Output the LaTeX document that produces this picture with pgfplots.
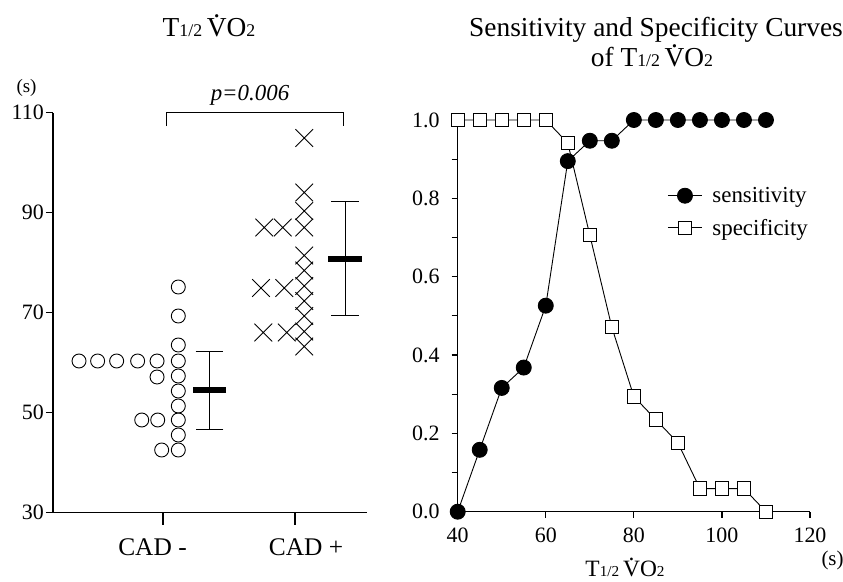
\documentclass[border=0pt]{standalone}
\usepackage{fontspec}
\setmainfont{Liberation Serif}
\usepackage{graphicx}
\usepackage{pgfplots}
\pgfplotsset{compat=1.18}

\newcommand{\fs}[1]{\fontsize{#1}{#1}\selectfont}
% V with a dot above, and the T1/2 VO2 label
\newcommand{\Vdot}{\leavevmode\ooalign{V\cr\hidewidth\raisebox{0.70em}{.}\hidewidth\cr}}
\newcommand{\thalf}{T\scalebox{0.65}{1/2}\,\Vdot O\scalebox{0.65}{2}}

\begin{document}
\begin{tikzpicture}
\useasboundingbox (0,0) rectangle (843bp,582bp);

% ---- left: dot plot of T1/2 VO2 ----
\begin{axis}[
  at={(53bp,69.5bp)}, anchor=south west,
  scale only axis, width=314bp, height=400bp,
  xmin=0.167, xmax=2.545, ymin=30, ymax=110,
  axis lines=left,
  axis line style={-, line width=1.5bp},
  xtick=\empty,
  ytick={30,50,70,90,110},
  tick align=outside,
  major tick length=7bp,
  tick style={black, line width=1.2bp},
  /pgf/number format/assume math mode=true,
  yticklabel style={font=\fs{22}, inner sep=0pt, xshift=-2bp},
  clip=false,
]
% CAD -
\addplot[only marks, mark=o, mark size=7bp, mark options={line width=0.9bp}] coordinates {
  (0.364,60.3) (0.505,60.3) (0.649,60.3) (0.808,60.3) (0.955,60.3) (1.116,60.3)
  (1.116,75.1) (1.116,69.3) (1.116,63.5) (1.116,57.3) (1.116,54.3)
  (1.116,51.3) (1.116,48.5) (1.116,45.5) (1.116,42.5)
  (0.955,57.1) (0.960,48.5) (0.839,48.5) (0.990,42.5)
};
% CAD +
\addplot[only marks, mark=x, mark size=12.5bp, mark options={line width=0.9bp}] coordinates {
  (2.070,104.9) (2.070,94.0) (2.070,90.3) (2.070,87.0)
  (2.070,81.4) (2.070,78.4) (2.070,75.3) (2.070,72.3) (2.070,69.3) (2.070,66.2) (2.070,63.2)
  (1.767,87.0) (1.907,87.0)
  (1.742,74.9) (1.919,74.9)
  (1.760,66.0) (1.937,66.0)
};
% mean +- SD
\addplot[black, only marks, mark=-, mark size=16.7bp, mark options={line width=6bp},
  error bars/.cd, y dir=both, y explicit,
  error mark=|, error mark options={mark size=13.8bp, line width=1bp},
  error bar style={line width=1bp}] coordinates {
  (1.352,54.5) +- (0,7.8)
  (2.379,80.8) +- (0,11.35)
};
\draw[line width=1.2bp] (axis cs:1,30) -- ++(0pt,-13bp);
\draw[line width=1.2bp] (axis cs:2,30) -- ++(0pt,-13bp);
\draw[line width=1bp] (axis cs:1.03,107.3) |- (axis cs:2.37,110) -- (axis cs:2.37,107.3);
\end{axis}

% ---- right: sensitivity and specificity ----
\begin{axis}[
  at={(457.7bp,70.3bp)}, anchor=south west,
  scale only axis, width=352.3bp, height=391.7bp,
  xmin=40, xmax=120, ymin=0, ymax=1,
  axis lines=left,
  axis line style={-, line width=1.5bp},
  xtick={40,60,80,100,120},
  ytick={0,0.2,0.4,0.6,0.8,1.0},
  minor y tick num=1,
  tick align=outside,
  major tick length=6bp, minor tick length=6bp,
  tick style={black, line width=1.2bp},
  /pgf/number format/assume math mode=true,
  yticklabel style={font=\fs{22}, inner sep=0pt, xshift=-12bp,
    /pgf/number format/.cd, fixed, fixed zerofill, precision=1},
  xticklabel style={font=\fs{22}, inner sep=0pt, yshift=-10bp},
  clip=false,
  legend style={at={(axis cs:87.6,0.831)}, anchor=north west, draw=none, fill=none,
    font=\fs{23}, inner sep=0pt, row sep=13bp, column sep=9bp,
    nodes={inner sep=1bp}},
  legend cell align=left,
  legend image code/.code={\draw[mark repeat=2, mark phase=2, #1]
    plot coordinates {(0bp,0bp) (17bp,0bp) (34bp,0bp)};},
]
\addplot[black, line width=0.9bp, mark=*, mark size=7.5bp] coordinates {
  (40,0) (45,0.158) (50,0.316) (55,0.368) (60,0.526) (65,0.895) (70,0.947) (75,0.947)
  (80,1) (85,1) (90,1) (95,1) (100,1) (105,1) (110,1)
};
\addlegendentry{sensitivity}
\addplot[black, line width=0.9bp, mark=square*, mark size=6.7bp,
  mark options={fill=white}] coordinates {
  (40,1) (45,1) (50,1) (55,1) (60,1) (65,0.941) (70,0.706) (75,0.471)
  (80,0.294) (85,0.235) (90,0.176) (95,0.059) (100,0.059) (105,0.059) (110,0)
};
\addlegendentry{specificity}
\end{axis}

% ---- texts ----
\node[anchor=base, font=\fs{27.5}] at (209bp,545.3bp) {\thalf};
\node[anchor=base, font=\fs{27.5}] at (656bp,545.3bp) {Sensitivity and Specificity Curves};
\node[anchor=base, font=\fs{27.5}] at (652bp,515.3bp) {of \thalf};
\node[anchor=base west, font=\fs{19}] at (13bp,489bp) {(s)};
\node[anchor=base, font=\fs{23}\itshape] at (250bp,481.3bp) {p=0.006};
\node[anchor=base, font=\fs{25.5}] at (152.5bp,27bp) {CAD -};
\node[anchor=base, font=\fs{25.5}] at (306bp,27bp) {CAD +};
\node[anchor=base, font=\fs{23.5}] at (625bp,5.3bp) {\thalf};
\node[anchor=base west, font=\fs{21}] at (818bp,17bp) {(s)};
\end{tikzpicture}
\end{document}
